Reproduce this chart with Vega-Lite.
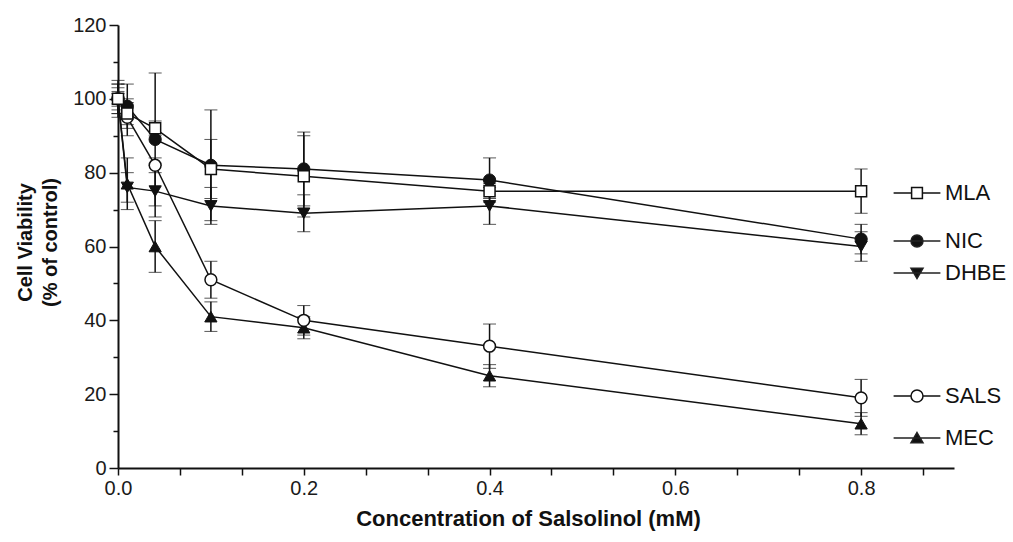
{
  "$schema": "https://vega.github.io/schema/vega-lite/v6.json",
  "width": 836,
  "height": 443,
  "autosize": {"type": "none"},
  "padding": {"left": 118, "top": 25, "right": 59, "bottom": 74},
  "background": "white",
  "config": {
    "view": {"stroke": null},
    "font": "Liberation Sans",
    "axis": {"grid": false, "domainColor": "#111", "tickColor": "#111", "labelColor": "#1a1a1a", "titleColor": "#111", "labelFont": "Liberation Sans", "titleFont": "Liberation Sans"},
    "legend": {"orient": "none", "title": null, "symbolSize": 144, "symbolStrokeWidth": 1.5, "symbolStrokeColor": "#222", "labelFontSize": 22, "labelColor": "#111", "labelOffset": 17, "labelFont": "Liberation Sans"}
  },
  "data": {
    "values": [
      {"series": "MLA", "conc": 0, "viability": 100, "sem": 3},
      {"series": "MLA", "conc": 0.01, "viability": 96, "sem": 3},
      {"series": "MLA", "conc": 0.04, "viability": 92, "sem": 2},
      {"series": "MLA", "conc": 0.1, "viability": 81, "sem": 8},
      {"series": "MLA", "conc": 0.2, "viability": 79, "sem": 11},
      {"series": "MLA", "conc": 0.4, "viability": 75, "sem": 2},
      {"series": "MLA", "conc": 0.8, "viability": 75, "sem": 6},
      {"series": "NIC", "conc": 0, "viability": 100, "sem": 4},
      {"series": "NIC", "conc": 0.01, "viability": 98, "sem": 6},
      {"series": "NIC", "conc": 0.04, "viability": 89, "sem": 18},
      {"series": "NIC", "conc": 0.1, "viability": 82, "sem": 15},
      {"series": "NIC", "conc": 0.2, "viability": 81, "sem": 10},
      {"series": "NIC", "conc": 0.4, "viability": 78, "sem": 6},
      {"series": "NIC", "conc": 0.8, "viability": 62, "sem": 4},
      {"series": "DHBE", "conc": 0, "viability": 100, "sem": 5},
      {"series": "DHBE", "conc": 0.01, "viability": 76, "sem": 4},
      {"series": "DHBE", "conc": 0.04, "viability": 75, "sem": 7},
      {"series": "DHBE", "conc": 0.1, "viability": 71, "sem": 5},
      {"series": "DHBE", "conc": 0.2, "viability": 69, "sem": 5},
      {"series": "DHBE", "conc": 0.4, "viability": 71, "sem": 5},
      {"series": "DHBE", "conc": 0.8, "viability": 60, "sem": 4},
      {"series": "SALS", "conc": 0, "viability": 100, "sem": 2},
      {"series": "SALS", "conc": 0.01, "viability": 95, "sem": 5},
      {"series": "SALS", "conc": 0.04, "viability": 82, "sem": 2},
      {"series": "SALS", "conc": 0.1, "viability": 51, "sem": 5},
      {"series": "SALS", "conc": 0.2, "viability": 40, "sem": 4},
      {"series": "SALS", "conc": 0.4, "viability": 33, "sem": 6},
      {"series": "SALS", "conc": 0.8, "viability": 19, "sem": 5},
      {"series": "MEC", "conc": 0, "viability": 100, "sem": 4},
      {"series": "MEC", "conc": 0.01, "viability": 77, "sem": 7},
      {"series": "MEC", "conc": 0.04, "viability": 60, "sem": 7},
      {"series": "MEC", "conc": 0.1, "viability": 41, "sem": 4},
      {"series": "MEC", "conc": 0.2, "viability": 38, "sem": 3},
      {"series": "MEC", "conc": 0.4, "viability": 25, "sem": 3},
      {"series": "MEC", "conc": 0.8, "viability": 12, "sem": 3}
    ]
  },
  "encoding": {
    "x": {
      "field": "conc", "type": "quantitative",
      "scale": {"domain": [0, 0.9], "nice": false, "zero": false},
      "axis": {
        "values": [0, 0.06666666666666667, 0.13333333333333333, 0.2, 0.26666666666666666, 0.3333333333333333, 0.4, 0.4666666666666667, 0.5333333333333333, 0.6, 0.6666666666666666, 0.7333333333333333, 0.8, 0.8666666666666667],
        "labelExpr": "abs(datum.value * 5 - round(datum.value * 5)) < 0.001 ? format(datum.value, '.1f') : ''",
        "labelFlush": false, "labelOverlap": false, "labelBound": false,
        "tickSize": 7, "tickWidth": 1.5, "domainWidth": 2,
        "labelFontSize": 20, "labelPadding": 3,
        "title": "Concentration of Salsolinol (mM)",
        "titleFontSize": 22, "titleFontWeight": "bold", "titlePadding": 10, "titleX": 410
      }
    },
    "y": {
      "field": "viability", "type": "quantitative",
      "scale": {"domain": [0, 120], "nice": false},
      "axis": {
        "values": [0, 10, 20, 30, 40, 50, 60, 70, 80, 90, 100, 110, 120],
        "labelExpr": "datum.value % 20 === 0 ? datum.label : ''",
        "labelFlush": false, "labelOverlap": false, "labelBound": false,
        "tickSize": {"condition": {"test": "datum.value % 20 === 0", "value": 9}, "value": 5},
        "tickWidth": 1.5, "domainWidth": 2,
        "labelFontSize": 20, "labelPadding": 3,
        "title": ["Cell Viability", "(% of control)"],
        "titleFontSize": 20, "titleFontWeight": "bold", "titlePadding": 12, "titleLineHeight": 25, "titleY": 217
      }
    }
  },
  "layer": [
    {
      "mark": {"type": "errorbar", "ticks": {"size": 13, "strokeWidth": 1.5, "color": "#111"}, "rule": {"strokeWidth": 1.5, "color": "#111"}},
      "encoding": {"yError": {"field": "sem"}}
    },
    {
      "mark": {"type": "line", "color": "#111", "strokeWidth": 1.5},
      "encoding": {"detail": {"field": "series", "type": "nominal"}}
    },
    {
      "transform": [{"filter": "datum.series === 'MEC'"}],
      "mark": {"type": "point", "shape": "triangle-up", "filled": true, "stroke": "#111", "strokeWidth": 1, "size": 150, "opacity": 1},
      "encoding": {"fill": {"field": "series", "type": "nominal", "scale": {"domain": ["MEC"], "range": ["#111"]},
        "legend": {"legendX": 788, "legendY": 402, "symbolType": "M-3.9,0H3.9M0,-0.9L1,0.8H-1Z", "symbolStrokeColor": "#222"}}}
    },
    {
      "transform": [{"filter": "datum.series === 'SALS'"}],
      "mark": {"type": "point", "shape": "circle", "filled": true, "fill": "white", "strokeWidth": 1.5, "size": 140, "opacity": 1},
      "encoding": {"stroke": {"field": "series", "type": "nominal", "scale": {"domain": ["SALS"], "range": ["#111"]},
        "legend": {"legendX": 788, "legendY": 360, "symbolType": "M-3.9,0H-1M1,0A1,1 0 1,1 -1,0A1,1 0 1,1 1,0ZM1,0H3.9", "symbolFillColor": "white"}}}
    },
    {
      "transform": [{"filter": "datum.series === 'DHBE'"}],
      "mark": {"type": "point", "shape": "triangle-down", "filled": true, "stroke": "#111", "strokeWidth": 1, "size": 150, "opacity": 1},
      "encoding": {"fill": {"field": "series", "type": "nominal", "scale": {"domain": ["DHBE"], "range": ["#111"]},
        "legend": {"legendX": 788, "legendY": 237, "symbolType": "M-3.9,0H3.9M-1,-0.8H1L0,0.9Z", "symbolStrokeColor": "#222"}}}
    },
    {
      "transform": [{"filter": "datum.series === 'NIC'"}],
      "mark": {"type": "point", "shape": "circle", "filled": true, "stroke": "#111", "strokeWidth": 1, "size": 150, "opacity": 1},
      "encoding": {"fill": {"field": "series", "type": "nominal", "scale": {"domain": ["NIC"], "range": ["#111"]},
        "legend": {"legendX": 788, "legendY": 205, "symbolType": "M-3.9,0H3.9M1,0A1,1 0 1,1 -1,0A1,1 0 1,1 1,0Z", "symbolStrokeColor": "#222"}}}
    },
    {
      "transform": [{"filter": "datum.series === 'MLA'"}],
      "mark": {"type": "point", "shape": "square", "filled": true, "fill": "white", "strokeWidth": 1.5, "size": 121, "opacity": 1},
      "encoding": {"stroke": {"field": "series", "type": "nominal", "scale": {"domain": ["MLA"], "range": ["#111"]},
        "legend": {"legendX": 788, "legendY": 157, "symbolType": "M-3.9,0H-0.9M-0.9,-0.9H0.9V0.9H-0.9ZM0.9,0H3.9", "symbolFillColor": "white"}}}
    }
  ],
  "resolve": {"scale": {"fill": "independent", "stroke": "independent"}, "legend": {"fill": "independent", "stroke": "independent"}}
}
